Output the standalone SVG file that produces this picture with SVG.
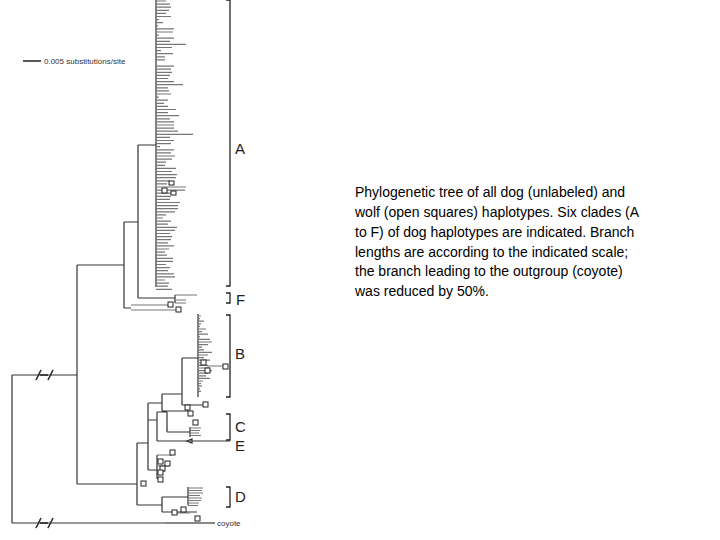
<svg xmlns="http://www.w3.org/2000/svg" width="720" height="540" viewBox="0 0 720 540">
<style>
.t{stroke:#333;stroke-width:1.2;fill:none}
.g{stroke:#777;stroke-width:1.2;fill:none}
.b{stroke:#222;stroke-width:1.3;fill:none}
.sq{fill:#fff;stroke:#222;stroke-width:1}
.lab{font-family:"Liberation Sans",Arial,sans-serif;font-size:15px;fill:#222}
.cap{font-family:"Liberation Sans",Arial,sans-serif;font-size:14px;fill:#000}
</style>
<rect width="720" height="540" fill="#fff"/>
<g id="connectors">
<path class="t" d="M12 375V523M12 375H77M77 265V484M77 265H124M124 222V308M124 222H138M138 145V298M138 145H156M156 0V287M138 298H175M175 295V303M124 308H131M12 523H215"/>
<path class="g" d="M175 295H197M175 300H186M175 303H186M131 305H170M131 310H178"/>
<path class="g" d="M156 1h10m-10 3.1h14m-14 3.1h15m-15 3.1h13m-13 3.1h10m-10 3.1h15m-15 3.1h3m-3 3.1h7m-7 3.1h2m-2 3.1h18m-18 3.1h17m-17 3.1h3m-3 3.1h18m-18 3.1h14m-14 3.1h30m-30 3.1h16m-16 3.1h5m-5 3.1h17m-17 3.1h9m-9 3.1h9m-9 3.1h1m-1 3.1h18m-18 3.1h15m-15 3.1h16m-16 3.1h14m-14 3.1h12m-12 3.1h18m-18 3.1h27m-27 3.1h12m-12 3.1h13m-13 3.1h15m-15 3.1h3m-3 3.1h12m-12 3.1h8m-8 3.1h12m-12 3.1h20m-20 3.1h12m-12 3.1h23m-23 3.1h14m-14 3.1h18m-18 3.1h18m-18 3.1h18m-18 3.1h22m-22 3.1h37m-37 3.1h14m-14 3.1h18m-18 3.1h15m-15 3.1h4m-4 3.1h18m-18 3.1h15m-15 3.1h19m-19 3.1h16m-16 3.1h10m-10 3.1h9m-9 3.1h20m-20 3.1h16m-16 3.1h21m-21 3.1h20m-20 3.1h14m-14 3.1h11m-11 3.1h30m-30 3.1h29m-29 3.1h17m-17 3.1h15m-15 3.1h14m-14 3.1h24m-24 3.1h22m-22 3.1h22m-22 3.1h19m-19 3.1h10m-10 3.1h7m-7 3.1h15m-15 3.1h12m-12 3.1h21m-21 3.1h19m-19 3.1h14m-14 3.1h16m-16 3.1h15m-15 3.1h12m-12 3.1h18m-18 3.1h13m-13 3.1h9m-9 3.1h11m-11 3.1h17m-17 3.1h17m-17 3.1h10m-10 3.1h14m-14 3.1h12m-12 3.1h18m-18 3.1h19m-19 3.1h9m-9 3.1h13m-13 3.1h12m-12 3.1h16"/>
<path class="t" d="M77 484H137M137 443V505M137 443H148M148 403V470M148 403H162M162 394V411M162 394H182M182 358V405M182 358H198M198 314V397M182 405H203M162 411H188M148 420H157M157 412V441M157 412H167M167 412V432M167 432H190M190 427V437M157 441H230M148 470H157M157 455V479M137 505H162M162 497V512M162 497H188M188 487V505M162 512H197"/>
<path class="g" d="M198 316h3m-3 2.6h2m-2 2.6h6m-6 2.6h3m-3 2.6h2m-2 2.6h8m-8 2.6h4m-4 2.6h10m-10 2.6h2m-2 2.6h12m-12 2.6h14m-14 2.6h10m-10 2.6h4m-4 2.6h6m-6 2.6h14m-14 2.6h10m-10 2.6h6m-6 2.6h12m-12 2.6h5m-5 2.6h10m-10 2.6h12m-12 2.6h14m-14 2.6h10m-10 2.6h8m-8 2.6h12m-12 2.6h5m-5 2.6h3m-3 2.6h4m-4 2.6h2m-2 2.6h3M190 428h11m-11 2.5h10m-10 2.5h9m-9 2.5h11M188 488h15m-15 2.5h14m-14 2.5h15m-15 2.5h12m-12 2.5h14m-14 2.5h13m-13 2.5h11m-11 2.5h10M157 455h15M157 462h5M157 466h12M157 471h8M157 479h5M167 432v-6M190 513h-15M215 523h-50M207 366h18"/>
<path class="b" d="M36 380l5 -10M48 380l5 -10M36 528l5 -10M48 528l5 -10"/>
<path class="b" d="M40 375h8M40 523h8" stroke="#fff" stroke-width="3"/>
<path class="t" d="M36 380l5 -10M48 380l5 -10M36 528l5 -10M48 528l5 -10M187 441l5 -2v4z"/>
<path class="b" d="M23 61H41M226 0h4V286h-4M226 293h4v10h-4M226 315h4v82h-4M226 414h4v26h-4M226 487h4v20h-4"/>
</g>
<g id="wolves">
<rect class="sq" x="168" y="302" width="5" height="5"/><rect class="sq" x="176" y="307" width="5" height="5"/>
<rect class="sq" x="169" y="181" width="5" height="4"/><rect class="sq" x="162" y="188" width="5" height="5"/><rect class="sq" x="171" y="191" width="5" height="4"/>
<rect class="sq" x="201" y="360" width="5" height="5"/><rect class="sq" x="205" y="368" width="5" height="5"/><rect class="sq" x="223" y="364" width="5" height="5"/>
<rect class="sq" x="203" y="402" width="5" height="5"/><rect class="sq" x="185" y="405" width="5" height="5"/><rect class="sq" x="188" y="411" width="5" height="5"/>
<rect class="sq" x="193" y="420" width="5" height="5"/>
<rect class="sq" x="170" y="450" width="5" height="5"/><rect class="sq" x="158" y="459" width="5" height="5"/><rect class="sq" x="165" y="461" width="5" height="5"/><rect class="sq" x="160" y="466" width="5" height="5"/><rect class="sq" x="158" y="470" width="5" height="5"/><rect class="sq" x="158" y="477" width="5" height="5"/>
<rect class="sq" x="141" y="481" width="5" height="5"/>
<rect class="sq" x="172" y="510" width="5" height="5"/><rect class="sq" x="181" y="507" width="5" height="5"/><rect class="sq" x="195" y="516" width="5" height="5"/>
</g>
<g id="labels">
<text x="44" y="64" font-family="Liberation Sans,Arial,sans-serif" font-size="8" fill="#333">0.005 substitutions/site</text>
<text class="lab" x="235" y="154">A</text>
<text class="lab" x="236" y="305">F</text>
<text class="lab" x="235" y="359">B</text>
<text class="lab" x="235" y="432">C</text>
<text class="lab" x="235" y="451">E</text>
<text class="lab" x="235" y="502">D</text>
<text x="217" y="526" font-family="Liberation Sans,Arial,sans-serif" font-size="8" fill="#333">coyote</text>
</g>
<g id="caption" class="cap">
<text x="355" y="197">Phylogenetic tree of all dog (unlabeled) and</text>
<text x="355" y="217">wolf (open squares) haplotypes. Six clades (A</text>
<text x="355" y="237">to F) of dog haplotypes are indicated. Branch</text>
<text x="355" y="257">lengths are according to the indicated scale;</text>
<text x="355" y="276">the branch leading to the outgroup (coyote)</text>
<text x="355" y="296">was reduced by 50%.</text>
</g>
</svg>
